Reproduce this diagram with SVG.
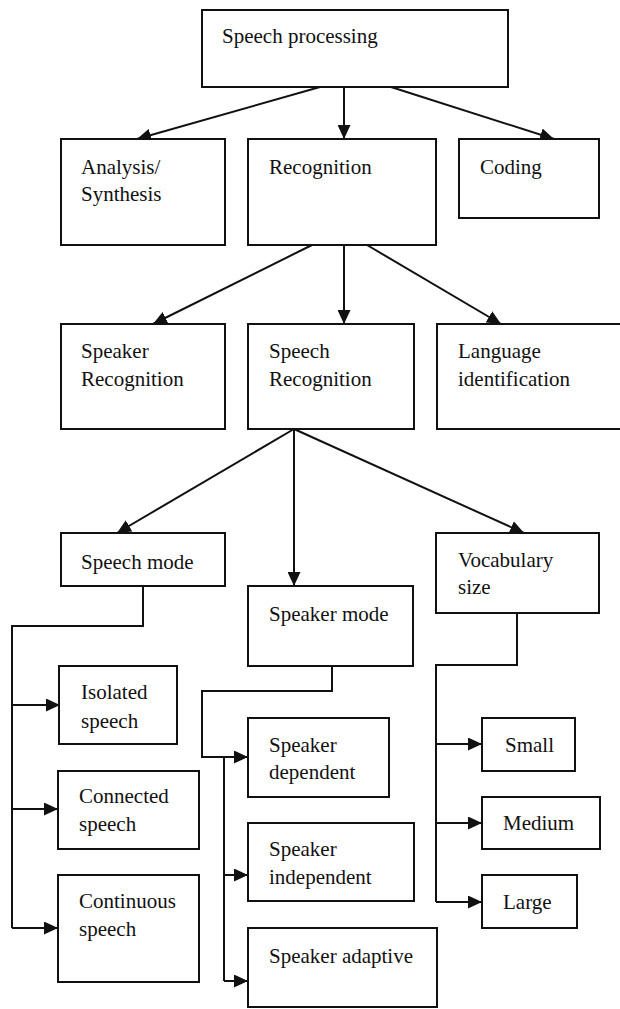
<svg xmlns="http://www.w3.org/2000/svg" width="620" height="1009" viewBox="0 0 620 1009">
<style>
rect{fill:#fff;stroke:#111;stroke-width:2}
text{font-family:'Liberation Serif','Times New Roman','DejaVu Serif',serif;font-size:21px;fill:#111}
.c{fill:none;stroke:#111;stroke-width:2}
</style>
<defs>
<marker id="ah" markerUnits="userSpaceOnUse" markerWidth="15" markerHeight="13" refX="14" refY="6.5" orient="auto">
<path d="M0,0 L14,6.5 L0,13 z" fill="#111"/>
</marker>
</defs>
<rect width="620" height="1009" style="fill:#fff;stroke:none"/>
<g id="connectors">
<line class="c" x1="320" y1="87" x2="137" y2="139" marker-end="url(#ah)"/>
<line class="c" x1="344" y1="87" x2="344" y2="139" marker-end="url(#ah)"/>
<line class="c" x1="391" y1="87" x2="554" y2="139" marker-end="url(#ah)"/>
<line class="c" x1="312" y1="245" x2="153" y2="324" marker-end="url(#ah)"/>
<line class="c" x1="344" y1="245" x2="344" y2="324" marker-end="url(#ah)"/>
<line class="c" x1="367" y1="245" x2="501" y2="324" marker-end="url(#ah)"/>
<line class="c" x1="294" y1="429" x2="117" y2="533" marker-end="url(#ah)"/>
<line class="c" x1="294" y1="429" x2="294" y2="586" marker-end="url(#ah)"/>
<line class="c" x1="294" y1="429" x2="524" y2="533" marker-end="url(#ah)"/>
<polyline class="c" points="143,586 143,626 12,626 12,928"/>
<line class="c" x1="12" y1="705" x2="60" y2="705" marker-end="url(#ah)"/>
<line class="c" x1="12" y1="809" x2="58" y2="809" marker-end="url(#ah)"/>
<line class="c" x1="12" y1="928" x2="58" y2="928" marker-end="url(#ah)"/>
<polyline class="c" points="332,666 332,691 202,691 202,757 248,757" marker-end="url(#ah)"/>
<line class="c" x1="224" y1="757" x2="224" y2="981"/>
<line class="c" x1="224" y1="875" x2="248" y2="875" marker-end="url(#ah)"/>
<line class="c" x1="224" y1="981" x2="248" y2="981" marker-end="url(#ah)"/>
<polyline class="c" points="517,613 517,665 436,665 436,902"/>
<line class="c" x1="436" y1="744" x2="482" y2="744" marker-end="url(#ah)"/>
<line class="c" x1="436" y1="823" x2="482" y2="823" marker-end="url(#ah)"/>
<line class="c" x1="436" y1="902" x2="482" y2="902" marker-end="url(#ah)"/>
</g>
<g font-family="Liberation Serif, serif">
<g id="speech-processing"><rect x="202" y="10" width="306" height="77"/><text x="222" y="43">Speech processing</text></g>
<g id="analysis"><rect x="61" y="139" width="164" height="106"/><text x="81" y="174">Analysis/</text><text x="81" y="201">Synthesis</text></g>
<g id="recognition"><rect x="248" y="139" width="188" height="106"/><text x="269" y="174">Recognition</text></g>
<g id="coding"><rect x="459" y="139" width="140" height="79"/><text x="480" y="174">Coding</text></g>
<g id="speaker-recognition"><rect x="61" y="324" width="164" height="105"/><text x="81" y="358">Speaker</text><text x="81" y="386">Recognition</text></g>
<g id="speech-recognition"><rect x="248" y="324" width="166" height="105"/><text x="269" y="358">Speech</text><text x="269" y="386">Recognition</text></g>
<g id="language-identification"><rect x="437" y="324" width="190" height="105"/><text x="458" y="358">Language</text><text x="458" y="386">identification</text></g>
<g id="speech-mode"><rect x="61" y="533" width="164" height="53"/><text x="81" y="569">Speech mode</text></g>
<g id="speaker-mode"><rect x="248" y="586" width="165" height="80"/><text x="269" y="621">Speaker mode</text></g>
<g id="vocabulary-size"><rect x="436" y="533" width="163" height="80"/><text x="458" y="567">Vocabulary</text><text x="458" y="594">size</text></g>
<g id="isolated"><rect x="59" y="666" width="118" height="78"/><text x="81" y="699">Isolated</text><text x="81" y="728">speech</text></g>
<g id="connected"><rect x="58" y="771" width="141" height="78"/><text x="79" y="803">Connected</text><text x="79" y="831">speech</text></g>
<g id="continuous"><rect x="58" y="875" width="141" height="107"/><text x="79" y="908">Continuous</text><text x="79" y="936">speech</text></g>
<g id="speaker-dependent"><rect x="248" y="718" width="141" height="79"/><text x="269" y="752">Speaker</text><text x="269" y="779">dependent</text></g>
<g id="speaker-independent"><rect x="248" y="823" width="166" height="78"/><text x="269" y="856">Speaker</text><text x="269" y="884">independent</text></g>
<g id="speaker-adaptive"><rect x="248" y="928" width="189" height="79"/><text x="269" y="963">Speaker adaptive</text></g>
<g id="small"><rect x="482" y="718" width="93" height="53"/><text x="505" y="752">Small</text></g>
<g id="medium"><rect x="482" y="797" width="118" height="52"/><text x="503" y="830">Medium</text></g>
<g id="large"><rect x="482" y="875" width="95" height="53"/><text x="503" y="909">Large</text></g>
</g>
</svg>
